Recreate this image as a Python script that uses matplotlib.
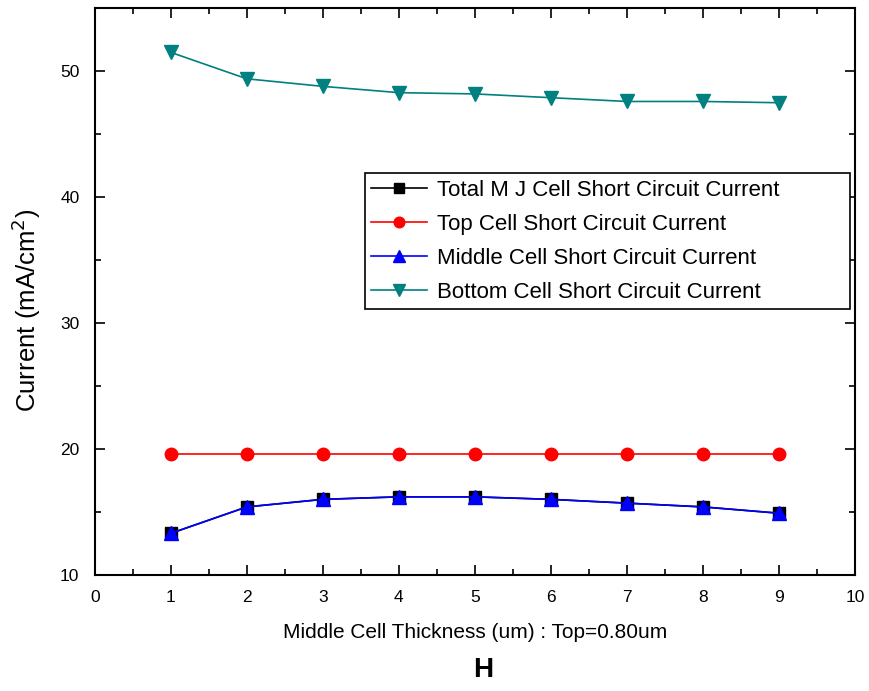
import matplotlib
matplotlib.use("Agg")
import matplotlib.pyplot as plt
from matplotlib.ticker import MultipleLocator

plt.rcParams['font.family'] = ['Liberation Sans', 'DejaVu Sans']

thickness = [1, 2, 3, 4, 5, 6, 7, 8, 9]
total_mj = [13.3, 15.4, 16.0, 16.2, 16.2, 16.0, 15.7, 15.4, 14.9]
top_cell = [19.6, 19.6, 19.6, 19.6, 19.6, 19.6, 19.6, 19.6, 19.6]
middle_cell = [13.3, 15.4, 16.0, 16.2, 16.2, 16.0, 15.7, 15.4, 14.9]
bottom_cell = [51.5, 49.4, 48.8, 48.3, 48.2, 47.9, 47.6, 47.6, 47.5]

labels = ["Total M J Cell Short Circuit Current",
          "Top Cell Short Circuit Current",
          "Middle Cell Short Circuit Current",
          "Bottom Cell Short Circuit Current"]

fig = plt.figure(figsize=(8.69, 6.91), dpi=100)
ax = fig.add_axes([0.109, 0.168, 0.875, 0.820])

lw = 1.2
ax.plot(thickness, total_mj, color='black', marker='s', ms=8, lw=lw, label=labels[0])
ax.plot(thickness, top_cell, color='red', marker='o', ms=9, lw=lw, label=labels[1])
ax.plot(thickness, middle_cell, color='blue', marker='^', ms=10, lw=lw, label=labels[2])
ax.plot(thickness, bottom_cell, color='#008080', marker='v', ms=10, lw=lw, label=labels[3])

ax.set_xlim(0, 10)
ax.set_ylim(10, 55)
ax.xaxis.set_major_locator(MultipleLocator(1))
ax.xaxis.set_minor_locator(MultipleLocator(0.5))
ax.yaxis.set_major_locator(MultipleLocator(10))
ax.yaxis.set_minor_locator(MultipleLocator(5))
ax.tick_params(which='both', direction='in', top=True, right=True, width=1.2, labelsize=12.5)
ax.tick_params(which='major', length=7)
ax.tick_params(which='minor', length=4)
ax.tick_params(axis='x', pad=11)
ax.tick_params(axis='y', pad=11)
for s in ax.spines.values():
    s.set_linewidth(1.5)

ax.set_xlabel("Middle Cell Thickness (um) : Top=0.80um", fontsize=15, labelpad=13)
ax.set_ylabel("Current (mA/cm$^2$)", fontsize=18.5)
ax.yaxis.set_label_coords(-0.068, 0.467)

leg = ax.legend(loc='upper left', bbox_to_anchor=(0.355, 0.473, 0.638, 0.236),
                mode='expand', fontsize=16, markerscale=0.85, borderaxespad=0,
                frameon=True, fancybox=False, edgecolor='black', framealpha=1,
                handlelength=2.5, borderpad=0.3, labelspacing=0.58, handletextpad=0.45)
leg.get_frame().set_linewidth(1.2)

fig.text(0.556, 0.012, "H", fontsize=20, fontweight='bold', ha='center', va='bottom')

fig.savefig("out.png", dpi=100)
